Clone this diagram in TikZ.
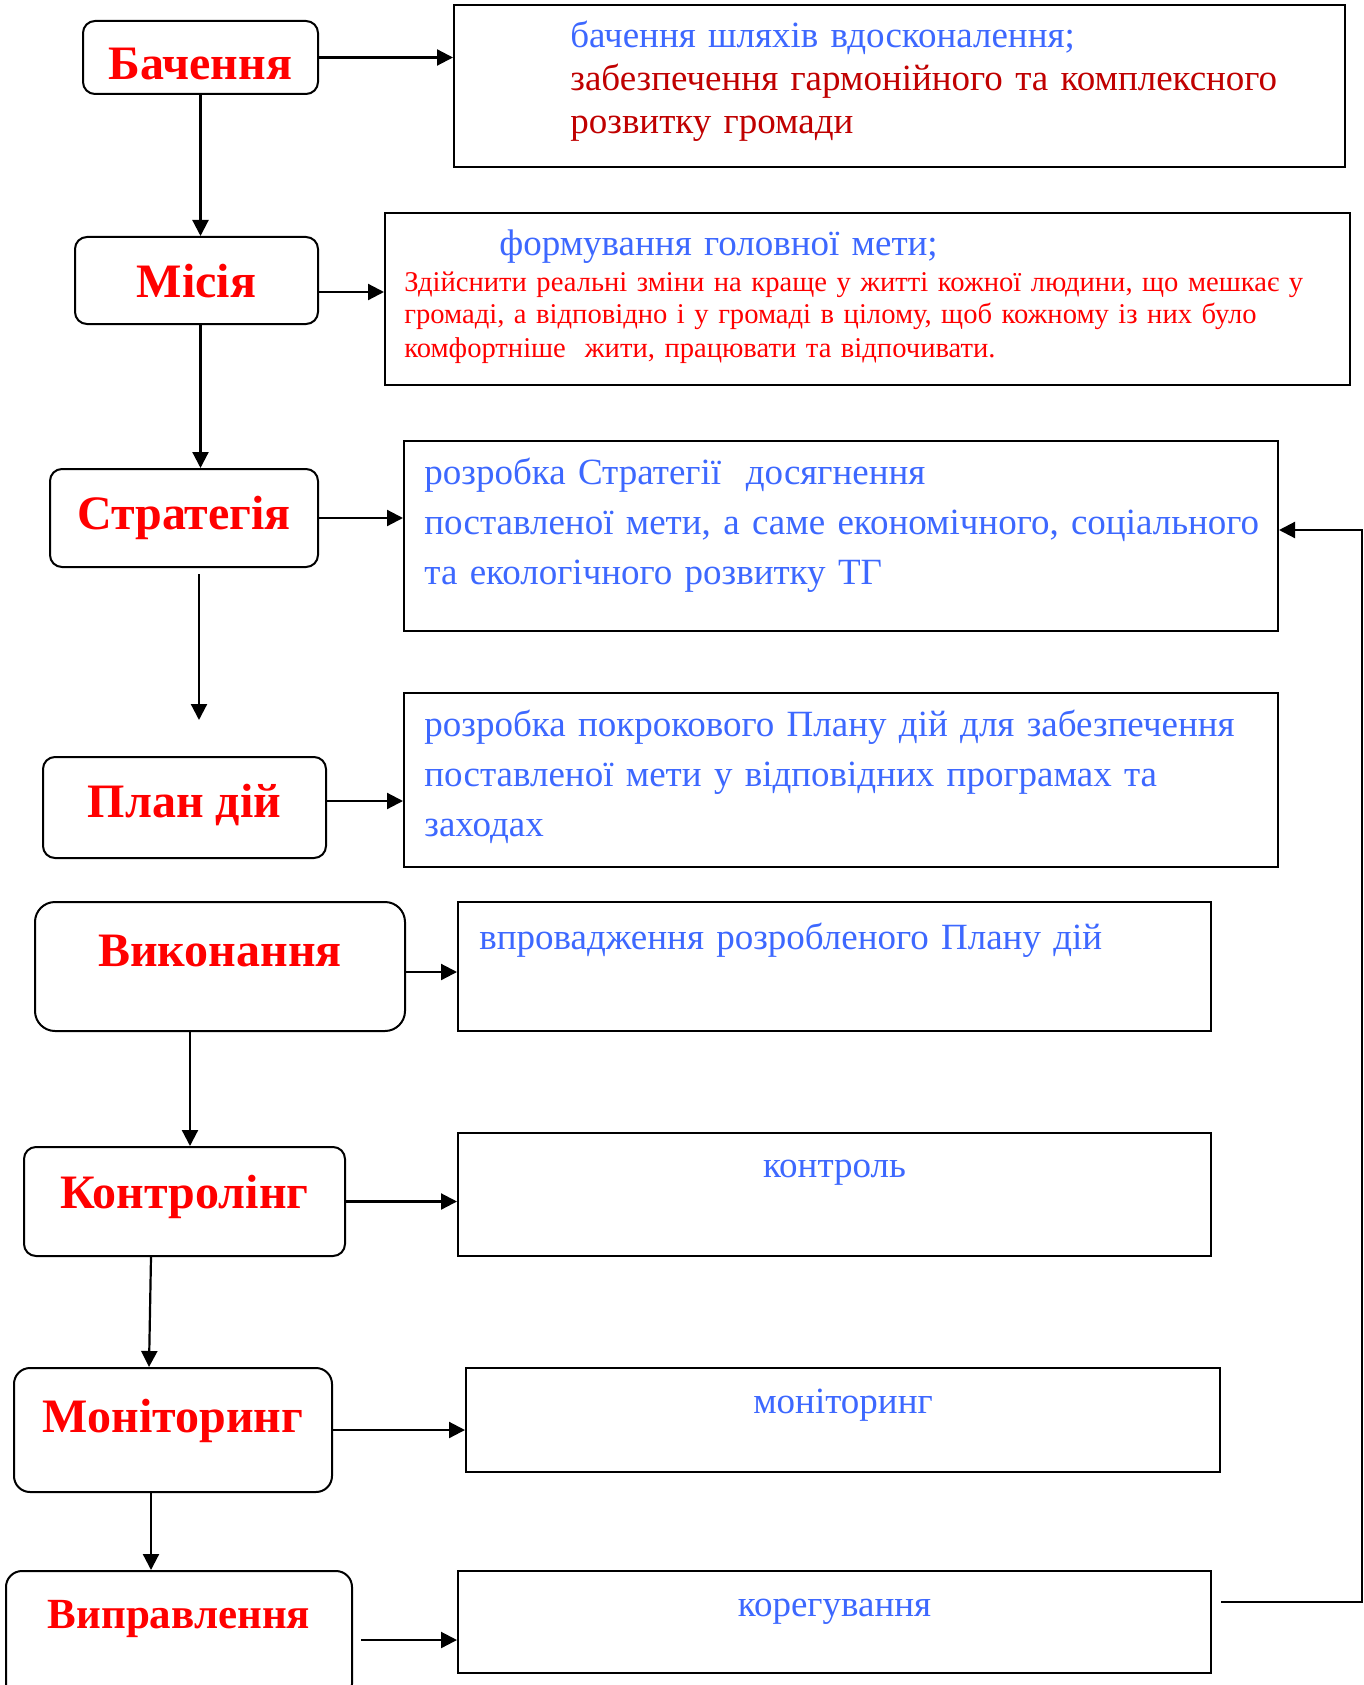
\documentclass[tikz,border=0pt]{standalone}
\usepackage{fontspec}
\setmainfont{Liberation Serif}
\usetikzlibrary{arrows.meta}
\usepackage{xcolor}
\definecolor{noteblue}{RGB}{61,104,255}
\definecolor{notered}{RGB}{192,0,0}

\begin{document}
\begin{tikzpicture}[x=0.5pt,y=-0.5pt]
						\tikzstyle{stage} = [rectangle,rounded corners=6pt,draw=black,line width=1pt,fill=white,inner sep=0pt,text=red,font=\bfseries\fontsize{24}{28}\selectfont]
						\tikzstyle{frame} = [rectangle,draw=black,line width=1pt,inner sep=0pt]
						\tikzstyle{note} = [inner sep=0pt,anchor=base west,align=left,text=noteblue,font=\fontsize{18.5}{25}\selectfont]
						\tikzstyle{edge} = [-{Triangle[length=8pt,width=8pt]},line width=1.1pt]
						\fill[white] (0,0) rectangle (1364,1685);
						\useasboundingbox (0,0) rectangle (1364,1685);
						% stages
						\node[stage,minimum width=117.5pt,text height=29.5pt,text depth=7pt] (bach) at (200.5,57.5) {Бачення};
						\node[stage,minimum width=121.5pt,text height=30pt,text depth=13.5pt] (mis) at (196.5,280.5) {Місія};
						\node[stage,minimum width=134pt,text height=30pt,text depth=19pt] (str) at (184,518) {Стратегія};
						\node[stage,minimum width=141.5pt,text height=30pt,text depth=20.5pt] (plan) at (184.5,807.5) {План дій};
						\node[stage,minimum width=185pt,text height=32pt,text depth=32.5pt,rounded corners=10pt] (vyk) at (220,966.5) {Виконання};
						\node[stage,minimum width=160.5pt,text height=30.5pt,text depth=24pt] (kon) at (184.5,1201.5) {Контролінг};
						\node[stage,minimum width=159pt,text height=32pt,text depth=30pt,rounded corners=8pt] (mon) at (173,1430) {Моніторинг};
						\node[stage,minimum width=173pt,text height=28.5pt,text depth=36pt,rounded corners=8pt,font=\bfseries\fontsize{21.5}{25}\selectfont] (vypr) at (179,1635.5) {Виправлення};
						% frames
						\node[frame,minimum width=445.5pt,minimum height=81pt] (vtxt) at (899.5,86) {};
						\node[frame,minimum width=482.5pt,minimum height=86pt] (mtxt) at (867.5,299) {};
						\node[frame,minimum width=437pt,minimum height=95pt] (stxt) at (841,536) {};
						\node[frame,minimum width=437pt,minimum height=87pt] (ptxt) at (841,780) {};
						\node[frame,minimum width=376.5pt,minimum height=64.5pt] (etxt) at (834.5,966.5) {};
						\node[frame,minimum width=376.5pt,minimum height=61.5pt] (ctxt) at (834.5,1194.5) {};
						\node[frame,minimum width=377pt,minimum height=52pt] (motxt) at (843,1420) {};
						\node[frame,minimum width=376.5pt,minimum height=51pt] (ktxt) at (834.5,1622) {};
						% texts
						\node[note,text width=380pt,text=notered,font=\fontsize{18.5}{21.5}\selectfont] (vnote) at ([shift={(58.5pt,-22pt)}]vtxt.north west) {\textcolor{noteblue}{бачення шляхів вдосконалення;}\\забезпечення гармонійного та комплексного\\розвитку громади};
						\node[note,text width=300pt] (mnote) at ([shift={(57.5pt,-22pt)}]mtxt.north west) {формування головної мети;};
						\node[note,text width=470pt,text=red,font=\fontsize{14.3}{16.5}\selectfont] (mgoal) at ([shift={(10pt,-39.5pt)}]mtxt.north west) {Здійснити реальні зміни на краще у житті кожної людини, що мешкає у\\громаді, а відповідно і у громаді в цілому, щоб кожному із них було\\комфортніше\ \ жити, працювати та відпочивати.};
						\node[note,text width=425pt] (snote) at ([shift={(10.5pt,-22pt)}]stxt.north west) {розробка Стратегії\ \ досягнення\\поставленої мети, а саме економічного, соціального\\та екологічного розвитку ТГ};
						\node[note,text width=425pt] (pnote) at ([shift={(10.5pt,-22pt)}]ptxt.north west) {розробка покрокового Плану дій для забезпечення\\поставленої мети у відповідних програмах та\\заходах};
						\node[note,text width=360pt] (enote) at ([shift={(11pt,-24pt)}]etxt.north west) {впровадження розробленого Плану дій};
						\node[note,anchor=base] (cnote) at ([yshift=-22.5pt]ctxt.north) {контроль};
						\node[note,anchor=base] (monote) at ([yshift=-23pt]motxt.north) {моніторинг};
						\node[note,anchor=base] (knote) at ([yshift=-23pt]ktxt.north) {корегування};
						% down the stages
						\coordinate (strend) at (199,720);
						\draw[edge] (bach.south) -- (bach.south |- mis.north);
						\draw[edge] (mis.south -| bach.south) -- (bach.south |- str.north);
						\draw[edge] ([yshift=-3pt]str.south -| strend) -- (strend);
						\draw[edge] ([xshift=-15pt]vyk.south) -- ([xshift=-15pt]vyk.south |- kon.north);
						\draw[edge] ([xshift=-16.75pt]kon.south) -- ([xshift=-12pt]mon.north);
						\draw[edge] ([xshift=-11pt]mon.south) -- ([xshift=-11pt]mon.south |- vypr.north);
						% to the frames
						\draw[edge] (bach) -- (bach -| vtxt.west);
						\draw[edge] ([yshift=-5.75pt]mis.east) -- ([yshift=-5.75pt]mis.east -| mtxt.west);
						\draw[edge] (str) -- (str -| stxt.west);
						\draw[edge] ([yshift=3.25pt]plan.east) -- ([yshift=3.25pt]plan.east -| ptxt.west);
						\draw[edge] ([yshift=-2.75pt]vyk.east) -- ([yshift=-2.75pt]vyk.east -| etxt.west);
						\draw[edge] (kon) -- (kon -| ctxt.west);
						\draw[edge] (mon) -- (mon -| motxt.west);
						\draw[edge] ([xshift=4pt,yshift=-2.25pt]vypr.east) -- ([yshift=-2.25pt]vypr.east -| ktxt.west);
						% back to the strategy
						\draw[edge] ([xshift=4.5pt,yshift=10pt]ktxt.east) -- ++(141,0) |- ([yshift=3pt]stxt.east);
						\end{tikzpicture}
\end{document}
